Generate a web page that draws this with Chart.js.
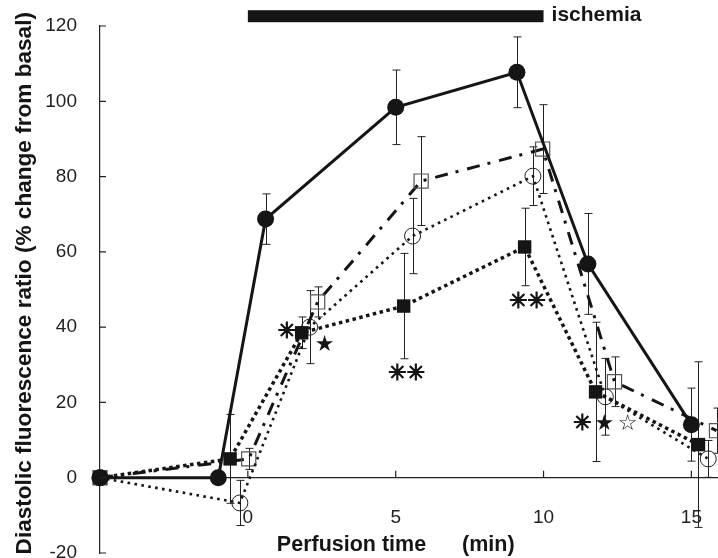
<!DOCTYPE html>
<html>
<head>
<meta charset="utf-8">
<script src="https://cdn.jsdelivr.net/npm/chart.js@4"></script>
<style>
  html, body { margin: 0; padding: 0; background: #fff; }
  #wrap { width: 718px; height: 558px; }
</style>
</head>
<body>
<div id="wrap"><canvas id="chart"></canvas></div>
<script>
  // Values: time (min), mean (% change from basal), error (+/-)
  var timeA = [-5, -1, 0.6, 5.0, 9.1, 11.5, 15.0];
  var meanA = [0, 0, 68.7, 98.4, 107.7, 56.8, 14.1];
  var errA = [0, 0, 6.7, 9.9, 9.4, 13.4, 9.7];

  var timeB = [-5, -0.6, 1.82, 5.27, 9.36, 11.76, 15.24];
  var meanB = [0, 5.0, 38.5, 45.6, 61.3, 22.8, 8.8];
  var errB = [0, 11.8, 4.2, 14.0, 10.3, 18.5, 22.0];

  var timeC = [-5, -0.27, 2.09, 5.57, 9.64, 12.09, 15.57];
  var meanC = [0, -6.7, 40.0, 64.2, 80.1, 21.5, 5.0];
  var errC = [0, 6.0, 9.7, 10.0, 7.8, 10.2, 4.9];

  var timeD = [-5, 0.03, 2.36, 5.86, 9.97, 12.4, 15.85];
  var meanD = [0, 5.0, 46.7, 78.8, 87.3, 25.5, 12.5];
  var errD = [0, 2.8, 4.0, 11.8, 11.8, 6.6, 6.0];

  var xTicks = [0, 5, 10, 15];
  var yTicks = [-20, 0, 20, 40, 60, 80, 100, 120];

  // significance marks placed in data units
  var markText = ["\u2733", "\u2605", "\u2733\u2733", "\u2733\u2733", "\u2733", "\u2605", "\u2606"];
  var markTime = [1.32, 2.6, 5.37, 9.46, 11.32, 12.06, 12.84];
  var markValue = [38.7, 35.3, 27.6, 46.7, 14.1, 14.1, 14.1];

  var ischemiaStart = 0;
  var ischemiaEnd = 10;
  var ischemiaLevel = 122.6;

  var INK = "#151515";
  var SANS = "'Liberation Sans', Arial, Helvetica, sans-serif";

  function points(times, means) {
    return times.map(function (t, i) { return { x: t, y: means[i] }; });
  }

  var errorBarsPlugin = {
    id: "errorBars",
    beforeDatasetsDraw: function (chart) {
      var ctx = chart.ctx;
      var ys = chart.scales.y;
      ctx.save();
      ctx.strokeStyle = "#222";
      ctx.lineWidth = 1;
      chart.data.datasets.forEach(function (ds, di) {
        if (!ds.errors) return;
        var meta = chart.getDatasetMeta(di);
        meta.data.forEach(function (pt, i) {
          var e = ds.errors[i];
          if (!e) return;
          var v = ds.data[i].y;
          var top = ys.getPixelForValue(v + e);
          var bot = ys.getPixelForValue(v - e);
          var x = Math.round(pt.x) + 0.5;
          ctx.beginPath();
          ctx.moveTo(x, top); ctx.lineTo(x, bot);
          ctx.moveTo(x - 4, top); ctx.lineTo(x + 4, top);
          ctx.moveTo(x - 4, bot); ctx.lineTo(x + 4, bot);
          ctx.stroke();
        });
      });
      ctx.restore();
    }
  };

  // ticks point into the plot, as in the original figure
  var innerTicksPlugin = {
    id: "innerTicks",
    afterDraw: function (chart) {
      var ctx = chart.ctx;
      var xs = chart.scales.x, ys = chart.scales.y;
      var y0 = ys.getPixelForValue(0);
      ctx.save();
      ctx.strokeStyle = "#222";
      ctx.lineWidth = 1.2;
      ctx.beginPath();
      yTicks.forEach(function (v) {
        var py = ys.getPixelForValue(v);
        ctx.moveTo(xs.left, py); ctx.lineTo(xs.left + 6, py);
      });
      xTicks.forEach(function (v) {
        var px = xs.getPixelForValue(v);
        ctx.moveTo(px, y0); ctx.lineTo(px, y0 - 7);
      });
      ctx.stroke();
      ctx.restore();
    }
  };

  var annotationsPlugin = {
    id: "annotations",
    afterDraw: function (chart) {
      var ctx = chart.ctx;
      var xs = chart.scales.x, ys = chart.scales.y;
      ctx.save();
      // ischemia bar above the plot
      var yb = ys.getPixelForValue(ischemiaLevel);
      ctx.fillStyle = INK;
      ctx.fillRect(xs.getPixelForValue(ischemiaStart), yb - 6, xs.getPixelForValue(ischemiaEnd) - xs.getPixelForValue(ischemiaStart), 12);
      ctx.font = "bold 21px " + SANS;
      ctx.textAlign = "left";
      ctx.textBaseline = "middle";
      ctx.fillText("ischemia", xs.getPixelForValue(ischemiaEnd) + 8, yb - 1);

      // x axis title, centred under the 5 min tick
      ctx.textAlign = "center";
      ctx.font = "bold 21.5px " + SANS;
      ctx.fillText("Perfusion time      (min)", xs.getPixelForValue(5), chart.height - 13);

      ctx.strokeStyle = INK;
      ctx.lineWidth = 1.1;
      markText.forEach(function (t, i) {
        var star = t === "\u2605" || t === "\u2606";
        var px = xs.getPixelForValue(markTime[i]);
        var py = ys.getPixelForValue(markValue[i]);
        ctx.font = (star ? "22px" : "22px") + " 'DejaVu Sans', sans-serif";
        ctx.fillText(t, px, py);
        if (!star) ctx.strokeText(t, px, py); // the printed asterisks are heavier than the glyph
      });
      ctx.restore();
    }
  };

  new Chart(document.getElementById("chart"), {
    type: "scatter",
    data: {
      datasets: [
        {
          data: points(timeA, meanA), errors: errA, showLine: true, clip: false,
          borderColor: INK, borderWidth: 3,
          pointStyle: "circle", pointRadius: 8.5, pointBackgroundColor: INK, pointBorderWidth: 0
        },
        {
          data: points(timeB, meanB), errors: errB, showLine: true, clip: false,
          borderColor: INK, borderWidth: 3.5, borderDash: [3.5, 3.5],
          pointStyle: "rect", pointRadius: 9.5, pointBackgroundColor: INK, pointBorderWidth: 0
        },
        {
          data: points(timeC, meanC), errors: errC, showLine: true, clip: false,
          borderColor: INK, borderWidth: 2.6, borderDash: [2.6, 4.4],
          pointStyle: "circle", pointRadius: 8, pointBackgroundColor: "rgba(0,0,0,0)",
          pointBorderColor: "#222", pointBorderWidth: 1
        },
        {
          data: points(timeD, meanD), errors: errD, showLine: true, clip: false,
          borderColor: INK, borderWidth: 3, borderDash: [13, 8, 3, 9],
          pointStyle: "rect", pointRadius: 10, pointBackgroundColor: "rgba(0,0,0,0)",
          pointBorderColor: "#555", pointBorderWidth: 1.2
        }
      ]
    },
    options: {
      responsive: true,
      maintainAspectRatio: false,
      animation: false,
      layout: { autoPadding: false, padding: { top: 26, bottom: 5, left: 0, right: 0 } },
      plugins: { legend: { display: false }, tooltip: { enabled: false } },
      scales: {
        x: {
          type: "linear",
          min: -5,
          max: 15.9,
          position: { y: 0 },
          border: { color: "#222", width: 1.2 },
          grid: { display: false, drawTicks: false },
          ticks: {
            stepSize: 5, padding: 29, color: "#222", includeBounds: false,
            font: { family: SANS, size: 19 },
            callback: function (v) { return v < 0 ? "" : v; }
          },
          afterFit: function (s) { s.paddingLeft = 0; s.paddingRight = 0; }
        },
        y: {
          min: -20,
          max: 120,
          border: { color: "#222", width: 1.2 },
          grid: { display: false, drawTicks: false },
          ticks: {
            stepSize: 20, padding: 23, color: "#222",
            font: { family: SANS, size: 19 }
          },
          title: {
            display: true,
            // two leading spaces nudge the centred title up a few pixels, as in the original
            text: "  Diastolic fluorescence ratio (% change from basal)",
            color: INK,
            font: { family: SANS, size: 22.6, weight: "bold" },
            padding: { top: 11, bottom: 0 }
          },
          afterFit: function (s) { s.width = 100; s.paddingTop = 0; s.paddingBottom = 0; s.paddingRight = 0; }
        }
      }
    },
    plugins: [errorBarsPlugin, innerTicksPlugin, annotationsPlugin]
  });
</script>
</body>
</html>
